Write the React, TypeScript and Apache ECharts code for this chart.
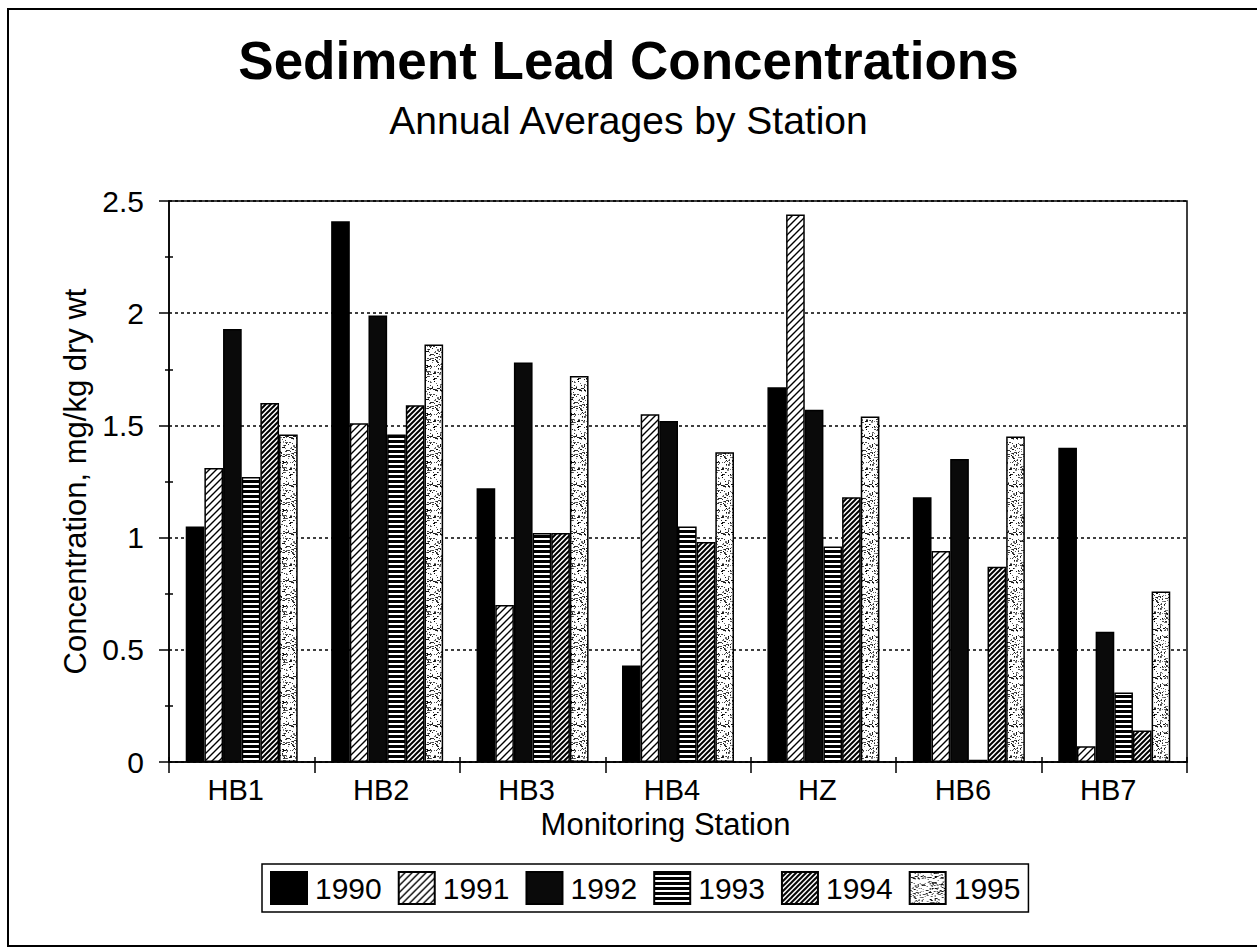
import React, { useEffect, useRef } from "react";
import * as echarts from "echarts";

const stations = ["HB1", "HB2", "HB3", "HB4", "HZ", "HB6", "HB7"];
const years = ["1990", "1991", "1992", "1993", "1994", "1995"];
const v1990 = [1.05, 2.41, 1.22, 0.43, 1.67, 1.18, 1.40];
const v1991 = [1.31, 1.51, 0.70, 1.55, 2.44, 0.94, 0.07];
const v1992 = [1.93, 1.99, 1.78, 1.52, 1.57, 1.35, 0.58];
const v1993 = [1.27, 1.46, 1.02, 1.05, 0.96, 0.01, 0.31];
const v1994 = [1.60, 1.59, 1.02, 0.98, 1.18, 0.87, 0.14];
const v1995 = [1.46, 1.86, 1.72, 1.38, 1.54, 1.45, 0.76];
const seriesValues = [v1990, v1991, v1992, v1993, v1994, v1995];
const yTicks = [0, 0.5, 1, 1.5, 2, 2.5];

const FONT = "'Liberation Sans', Arial, sans-serif";

function hatch(size: number, lw: number) {
  const c = document.createElement("canvas");
  c.width = size;
  c.height = size;
  const ctx = c.getContext("2d")!;
  ctx.fillStyle = "#fff";
  ctx.fillRect(0, 0, size, size);
  ctx.strokeStyle = "#000";
  ctx.lineWidth = lw;
  ctx.beginPath();
  ctx.moveTo(0, size);
  ctx.lineTo(size, 0);
  ctx.moveTo(-2, 2);
  ctx.lineTo(2, -2);
  ctx.moveTo(size - 2, size + 2);
  ctx.lineTo(size + 2, size - 2);
  ctx.stroke();
  return c;
}

function stripes(h: number, dark: number) {
  const c = document.createElement("canvas");
  c.width = 4;
  c.height = h;
  const ctx = c.getContext("2d")!;
  ctx.fillStyle = "#fff";
  ctx.fillRect(0, 0, 4, h);
  ctx.fillStyle = "#000";
  ctx.fillRect(0, 0, 4, dark);
  return c;
}

function speckle(size: number) {
  const c = document.createElement("canvas");
  c.width = size;
  c.height = size;
  const ctx = c.getContext("2d")!;
  ctx.fillStyle = "#fff";
  ctx.fillRect(0, 0, size, size);
  let s = 12345;
  const next = () => {
    s = (s * 1103515245 + 12345) % 2147483648;
    return s / 2147483648;
  };
  for (let i = 0; i < size * size * 0.22; i++) {
    const x = Math.floor(next() * size);
    const y = Math.floor(next() * size);
    const g = Math.floor(next() * 140);
    ctx.fillStyle = `rgb(${g},${g},${g})`;
    ctx.fillRect(x, y, next() < 0.3 ? 2 : 1, 1);
  }
  return c;
}

export default function App() {
  const ref = useRef<HTMLDivElement>(null);
  useEffect(() => {
    document.body.style.margin = "0";
    const chart = echarts.init(ref.current!, null, { renderer: "svg" });
    const fills: any[] = [
      "#000",
      { image: hatch(7, 1.4), repeat: "repeat" },
      "#0a0a0a",
      { image: stripes(5, 3), repeat: "repeat" },
      { image: hatch(5, 2), repeat: "repeat" },
      { image: speckle(48), repeat: "repeat" },
    ];
    const yMin = yTicks[0];
    const yMax = yTicks[yTicks.length - 1];
    chart.setOption({
      animation: false,
      backgroundColor: "#fff",
      textStyle: { fontFamily: FONT, color: "#000" },
      title: [
        {
          text: "Sediment Lead Concentrations",
          left: "center",
          top: 29,
          textStyle: { fontFamily: FONT, fontWeight: "bold", fontSize: 53, color: "#000" },
        },
        {
          text: "Annual Averages by Station",
          left: "center",
          top: 96,
          textStyle: { fontFamily: FONT, fontWeight: "normal", fontSize: 39, color: "#000" },
        },
      ],
      graphic: [
        {
          type: "rect",
          shape: { x: 8, y: 9, width: 1300, height: 937 },
          style: { fill: "none", stroke: "#000", lineWidth: 2 },
          silent: true,
        },
      ],
      legend: {
        data: years,
        bottom: 37,
        left: 262,
        icon: "rect",
        itemWidth: 36,
        itemHeight: 32,
        itemGap: 16,
        padding: [7, 8],
        borderColor: "#000",
        borderWidth: 1.5,
        textStyle: { fontFamily: FONT, fontSize: 30, color: "#000", padding: [0, 0, 0, 3] },
      },
      grid: {
        left: 169,
        right: 70,
        top: 201,
        bottom: 187,
        show: true,
        borderColor: "#000",
        borderWidth: 1.5,
      },
      xAxis: [
        {
          type: "category",
          data: stations,
          name: "Monitoring Station",
          nameLocation: "middle",
          nameGap: 45,
          nameTextStyle: { fontFamily: FONT, fontSize: 31, color: "#000", padding: [0, 25, 0, 0] },
          axisLine: { lineStyle: { color: "#000", width: 1.5 } },
          axisTick: { show: true, length: 11, lineStyle: { color: "#000", width: 1.5 } },
          axisLabel: { fontFamily: FONT, fontSize: 29, color: "#000", margin: 13, padding: [0, 12, 0, 0] },
          splitLine: { show: false },
        },
        {
          type: "category",
          data: stations,
          position: "bottom",
          axisLine: { show: false },
          axisTick: { show: true, inside: true, length: 5, lineStyle: { color: "#000", width: 1.5 } },
          axisLabel: { show: false },
          splitLine: { show: false },
        },
      ],
      yAxis: [
        {
          type: "value",
          min: yMin,
          max: yMax,
          interval: 0.5,
          name: "Concentration, mg/kg dry wt",
          nameLocation: "middle",
          nameGap: 70,
          nameTextStyle: { fontFamily: FONT, fontSize: 31, color: "#000" },
          axisLine: { show: true, lineStyle: { color: "#000", width: 1.5 } },
          axisTick: { show: true, length: 10, lineStyle: { color: "#000", width: 1.5 } },
          minorTick: { show: true, splitNumber: 2, length: 4, lineStyle: { color: "#000", width: 1.5 } },
          axisLabel: { fontFamily: FONT, fontSize: 30, color: "#000", margin: 25 },
          splitLine: { show: true, lineStyle: { color: "#000", width: 1.5, type: [3, 3] } },
        },
        {
          type: "value",
          min: yMin,
          max: yMax,
          interval: 0.5,
          position: "left",
          axisLine: { show: false },
          axisTick: { show: false, inside: true },
          minorTick: { show: true, splitNumber: 2, length: 4, lineStyle: { color: "#000", width: 1.5 } },
          axisLabel: { show: false },
          splitLine: { show: false },
        },
      ],
      series: years.map((y, i) => ({
        name: y,
        type: "bar",
        data: seriesValues[i],
        barGap: "0%",
        barCategoryGap: "23%",
        itemStyle: { color: fills[i], borderColor: "#000", borderWidth: 1.5 },
      })),
    });
    return () => chart.dispose();
  }, []);
  return <div ref={ref} style={{ width: 1257, height: 949 }} />;
}
